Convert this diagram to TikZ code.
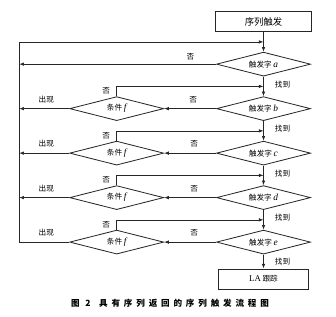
\documentclass[tikz,border=0pt]{standalone}
\usepackage{fontspec}
\setmainfont{Liberation Serif}
\newfontfamily\cjk{Noto Sans CJK SC}
\usetikzlibrary{positioning,arrows.meta,shapes.geometric,calc}
\newcommand\wordvar[1]{{\rmfamily\itshape\fontsize{8}{9}\selectfont #1}}

\begin{document}
\begin{tikzpicture}[
  font=\cjk\fontsize{6.5}{8}\selectfont,
  procbox/.style = {
    rectangle, draw=black!85, line width=0.7pt,
    minimum width=2.9cm, minimum height=0.61cm, inner sep=1pt,
  },
  check/.style = {
    diamond, draw=black!85, line width=0.7pt, aspect=3.9,
    minimum width=2.82cm, minimum height=0.72cm, inner sep=0pt,
  },
  arrow/.style = {-{Latex[length=4pt,width=3pt]}, line width=0.6pt, draw=black!85},
  lbl/.style = {inner sep=1.5pt},
  node distance=0.59cm and 1.56cm,
]
  \useasboundingbox (0,0) rectangle (10.08,-9.51);

  \node[procbox] (start) at (7.905,-0.645) {\fontsize{8}{9}\selectfont 序列触发};
  \node[check, below=of start] (a) {触发字 \wordvar{a}};
  \node[check, below=of a]     (b) {触发字 \wordvar{b}};
  \node[check, below=of b]     (c) {触发字 \wordvar{c}};
  \node[check, below=of c]     (d) {触发字 \wordvar{d}};
  \node[check, below=of d]     (e) {触发字 \wordvar{e}};
  \node[procbox, minimum width=2.7cm, below=0.42cm of e] (la) {{\rmfamily\fontsize{7.5}{9}\selectfont LA} 跟踪};

  \node[check, left=of b] (fb) {条件 \wordvar{f}};
  \node[check, left=of c] (fc) {条件 \wordvar{f}};
  \node[check, left=of d] (fd) {条件 \wordvar{f}};
  \node[check, left=of e] (fe) {条件 \wordvar{f}};

  \coordinate (rail) at ([xshift=-1.5cm]fb.west);
  \coordinate (top) at ($(start.south)!.5!(a.north)$);

  \draw[arrow] (start) -- (a);
  \draw[arrow] (a) -- node[lbl, right=8pt, pos=.4] {找到} (b);
  \draw[arrow] (b) -- node[lbl, right=8pt, pos=.4] {找到} (c);
  \draw[arrow] (c) -- node[lbl, right=8pt, pos=.4] {找到} (d);
  \draw[arrow] (d) -- node[lbl, right=8pt, pos=.4] {找到} (e);
  \draw[arrow] (e) -- node[lbl, right=8pt] {找到} (la);

  \draw[arrow] (a.west) -- node[lbl, above=2pt, pos=.13] {否} (a.west -| rail);

  \draw[arrow] (b) -- node[lbl, above=3pt, pos=.44] {否} (fb);
  \draw[arrow] (c) -- node[lbl, above=3pt, pos=.42] {否} (fc);
  \draw[arrow] (d) -- node[lbl, above=3pt, pos=.42] {否} (fd);
  \draw[arrow] (e) -- node[lbl, above=3pt, pos=.42] {否} (fe);

  \draw[arrow] (fb.north) |- node[lbl, left=4pt, pos=.25] {否} ($(a.south)!.5!(b.north)$);
  \draw[arrow] (fc.north) |- node[lbl, left=4pt, pos=.25] {否} ($(b.south)!.5!(c.north)$);
  \draw[arrow] (fd.north) |- node[lbl, left=4pt, pos=.25] {否} ($(c.south)!.5!(d.north)$);
  \draw[arrow] (fe.north) |- node[lbl, left=4pt, pos=.25] {否} ($(d.south)!.5!(e.north)$);

  \draw[arrow] (fb.west) -- node[lbl, above=3pt, pos=.46] {出现} (fb.west -| rail);
  \draw[arrow] (fc.west) -- node[lbl, above=3pt, pos=.46] {出现} (fc.west -| rail);
  \draw[arrow] (fd.west) -- node[lbl, above=3pt, pos=.46] {出现} (fd.west -| rail);
  \draw[arrow] (fe.west) -- node[lbl, above=3pt, pos=.46] {出现} (fe.west -| rail)
    |- (top);

  \node (cap) at (5.1,-9.09) {\fontsize{7.3}{9}\selectfont\bfseries\addfontfeature{LetterSpace=45}图 2\quad 具有序列返回的序列触发流程图};
\end{tikzpicture}
\end{document}
